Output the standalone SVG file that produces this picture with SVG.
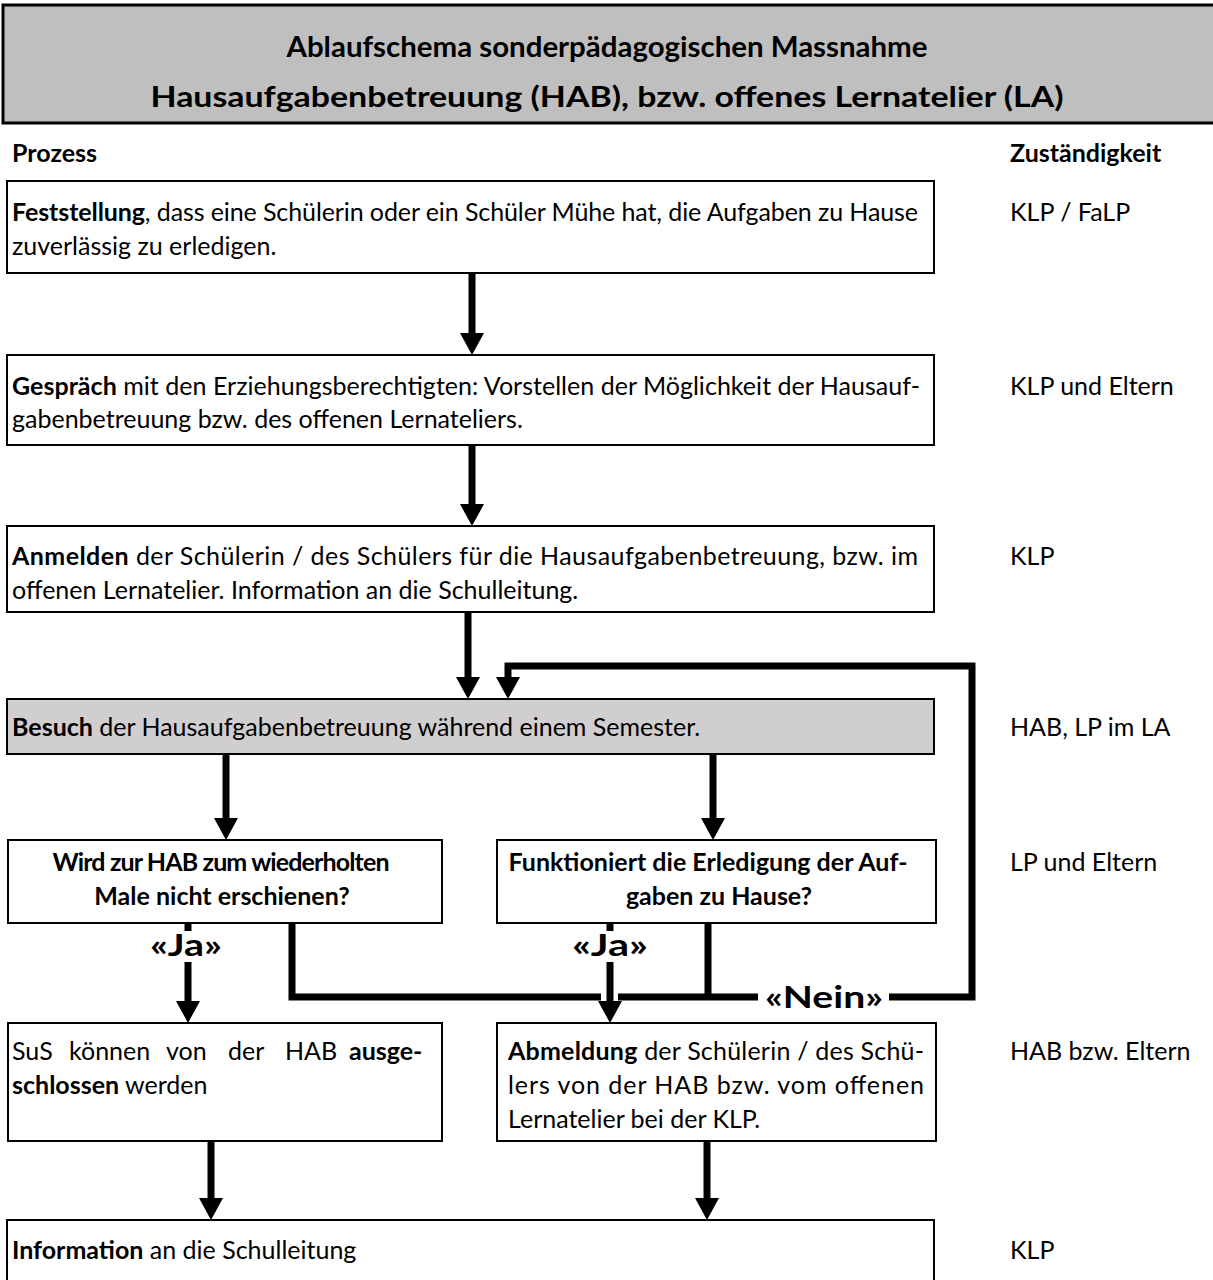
<svg xmlns="http://www.w3.org/2000/svg" width="1213" height="1280" viewBox="0 0 1213 1280">
<style>
.t{font-family:Lato,"Liberation Sans",sans-serif;font-size:25px;fill:#000}
.b{font-weight:bold}
.h{font-family:Lato,"Liberation Sans",sans-serif;font-size:29px;font-weight:bold;fill:#000}
.lbl{font-family:Lato,"Liberation Sans",sans-serif;font-size:31px;font-weight:bold;fill:#000}
.box{fill:#fff;stroke:#000;stroke-width:2}
.gray{fill:#d0cece;stroke:#000;stroke-width:2}
.c{stroke:#000;stroke-width:7;fill:none}
</style>
<defs>
<marker id="ah" markerUnits="userSpaceOnUse" markerWidth="22" markerHeight="24" viewBox="0 0 22 24" refX="0" refY="12" orient="auto">
<path d="M0,0 L22,12 L0,24 z" fill="#000"/>
</marker>
</defs>
<rect width="1213" height="1280" fill="#fff"/>
<g id="header">
<rect x="3" y="5" width="1215" height="118" fill="#bfbfbf" stroke="#000" stroke-width="3"/>
<text class="h" x="607" y="57" text-anchor="middle" textLength="641" lengthAdjust="spacingAndGlyphs">Ablaufschema sonderpädagogischen Massnahme</text>
<text class="h" x="607" y="107" text-anchor="middle" textLength="913" lengthAdjust="spacingAndGlyphs">Hausaufgabenbetreuung (HAB), bzw. offenes Lernatelier (LA)</text>
</g>
<g id="col-heads">
<text class="t b" x="12" y="162">Prozess</text>
<text class="t b" x="1010" y="162">Zuständigkeit</text>
</g>
<g id="n1">
<rect class="box" x="7" y="181" width="927" height="92"/>
<text class="t" x="12" y="221" textLength="906" lengthAdjust="spacing"><tspan class="b">Feststellung</tspan>, dass eine Schülerin oder ein Schüler Mühe hat, die Aufgaben zu Hause</text>
<text class="t" x="12" y="255">zuverlässig zu erledigen.</text>
<text class="t" x="1010" y="221">KLP / FaLP</text>
</g>
<g id="n2">
<rect class="box" x="7" y="355" width="927" height="90"/>
<text class="t" x="12" y="395" textLength="908" lengthAdjust="spacing"><tspan class="b">Gespräch</tspan> mit den Erziehungsberechtigten: Vorstellen der Möglichkeit der Hausauf-</text>
<text class="t" x="12" y="428">gabenbetreuung bzw. des offenen Lernateliers.</text>
<text class="t" x="1010" y="395">KLP und Eltern</text>
</g>
<g id="n3">
<rect class="box" x="7" y="526" width="927" height="86"/>
<text class="t" x="12" y="565" textLength="906" lengthAdjust="spacing"><tspan class="b">Anmelden</tspan> der Schülerin / des Schülers für die Hausaufgabenbetreuung, bzw. im</text>
<text class="t" x="12" y="599">offenen Lernatelier. Information an die Schulleitung.</text>
<text class="t" x="1010" y="565">KLP</text>
</g>
<g id="n4">
<rect class="gray" x="7" y="699" width="927" height="55"/>
<text class="t" x="12" y="736"><tspan class="b">Besuch</tspan> der Hausaufgabenbetreuung während einem Semester.</text>
<text class="t" x="1010" y="736">HAB, LP im LA</text>
</g>
<g id="n5">
<rect class="box" x="8" y="840" width="434" height="83"/>
<text class="t b" x="221" y="871" text-anchor="middle" textLength="337" lengthAdjust="spacing">Wird zur HAB zum wiederholten</text>
<text class="t b" x="222" y="905" text-anchor="middle">Male nicht erschienen?</text>
</g>
<g id="n6">
<rect class="box" x="497" y="840" width="439" height="83"/>
<text class="t b" x="708" y="871" text-anchor="middle" textLength="399" lengthAdjust="spacing">Funktioniert die Erledigung der Auf-</text>
<text class="t b" x="719" y="905" text-anchor="middle">gaben zu Hause?</text>
<text class="t" x="1010" y="871">LP und Eltern</text>
</g>
<g id="n7">
<rect class="box" x="8" y="1023" width="434" height="118"/>
<text class="t" y="1060"><tspan x="12">SuS</tspan><tspan x="69">können</tspan><tspan x="166">von</tspan><tspan x="228">der</tspan><tspan x="285">HAB</tspan><tspan x="349" class="b">ausge-</tspan></text>
<text class="t" x="12" y="1094"><tspan class="b">schlossen</tspan> werden</text>
</g>
<g id="n8">
<rect class="box" x="497" y="1023" width="439" height="118"/>
<text class="t" x="508" y="1060" textLength="416" lengthAdjust="spacing"><tspan class="b">Abmeldung</tspan> der Schülerin / des Schü-</text>
<text class="t" x="508" y="1094" textLength="416" lengthAdjust="spacing">lers von der HAB bzw. vom offenen</text>
<text class="t" x="508" y="1128">Lernatelier bei der KLP.</text>
<text class="t" x="1010" y="1060">HAB bzw. Eltern</text>
</g>
<g id="n9">
<rect class="box" x="7" y="1220" width="927" height="70"/>
<text class="t" x="12" y="1259"><tspan class="b">Information</tspan> an die Schulleitung</text>
<text class="t" x="1010" y="1259">KLP</text>
</g>
<g id="connectors">
<line class="c" x1="472" y1="273" x2="472" y2="333" marker-end="url(#ah)"/>
<line class="c" x1="472" y1="445" x2="472" y2="504" marker-end="url(#ah)"/>
<line class="c" x1="468" y1="612" x2="468" y2="677" marker-end="url(#ah)"/>
<polyline class="c" points="292,923 292,997 601,997"/>
<line class="c" x1="618" y1="997" x2="758" y2="997"/>
<polyline class="c" points="889,997 972,997 972,666 508,666 508,677" marker-end="url(#ah)"/>
<line class="c" x1="708" y1="923" x2="708" y2="1000"/>
<line class="c" x1="226" y1="754" x2="226" y2="818" marker-end="url(#ah)"/>
<line class="c" x1="713" y1="754" x2="713" y2="818" marker-end="url(#ah)"/>
<line class="c" x1="188" y1="923" x2="188" y2="931"/>
<line class="c" x1="188" y1="962" x2="188" y2="1001" marker-end="url(#ah)"/>
<line class="c" x1="610" y1="923" x2="610" y2="931"/>
<line class="c" x1="610" y1="962" x2="610" y2="1001" marker-end="url(#ah)"/>
<line class="c" x1="211" y1="1141" x2="211" y2="1198" marker-end="url(#ah)"/>
<line class="c" x1="707" y1="1141" x2="707" y2="1198" marker-end="url(#ah)"/>
<text class="lbl" x="186" y="956" text-anchor="middle" textLength="72" lengthAdjust="spacingAndGlyphs">«Ja»</text>
<text class="lbl" x="610" y="956" text-anchor="middle" textLength="76" lengthAdjust="spacingAndGlyphs">«Ja»</text>
<text class="lbl" x="824" y="1008" text-anchor="middle" textLength="118" lengthAdjust="spacingAndGlyphs">«Nein»</text>
</g>
</svg>
